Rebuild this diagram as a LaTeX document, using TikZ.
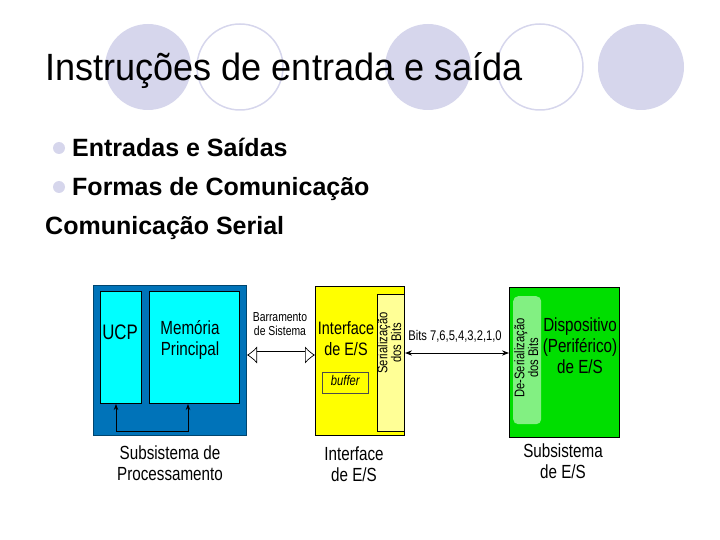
\documentclass[tikz,border=0pt]{standalone}
\usepackage{fontspec}
\setmainfont{Liberation Sans}
\usetikzlibrary{arrows.meta}
\definecolor{lav}{RGB}{214,214,236}
\definecolor{blu}{RGB}{0,115,185}
\definecolor{cya}{RGB}{0,255,255}
\definecolor{yel}{RGB}{255,255,0}
\definecolor{lyel}{RGB}{255,255,150}
\definecolor{grn}{RGB}{0,222,0}
\definecolor{lgrn}{RGB}{130,240,130}
\newcommand\nar[1]{\scalebox{0.8}[1]{\begin{tabular}{@{}c@{}}#1\end{tabular}}}
\tikzset{
 box/.style={draw=black,line width=1pt,inner sep=0pt},
 lbl/.style={font=\fontsize{19}{21}\selectfont,align=center,inner sep=0pt},
 small/.style={font=\fontsize{13}{14}\selectfont,align=center,inner sep=0pt},
 bul/.style={font=\bfseries\fontsize{25}{27}\selectfont,anchor=base west,inner sep=0pt}
}
\begin{document}
\begin{tikzpicture}[x=1pt,y=-1pt]
\useasboundingbox (0,0) rectangle (720,540);
\fill[lav] (148,67) circle (43);
\draw[lav,line width=1.5pt] (240,67) circle (43);
\fill[lav] (428,67) circle (43);
\draw[lav,line width=1.5pt] (540,67) circle (43);
\fill[lav] (641,67) circle (43);
\node[anchor=base west,inner sep=0pt,font=\fontsize{38}{40}\selectfont] (title) at (45,81) {\scalebox{0.95}[1]{Instruções de entrada e saída}};
\fill[lav] (59,148) circle (6);
\node[bul] (b1) at (72,157) {Entradas e Saídas};
\fill[lav] (59,187) circle (6);
\node[bul] (b2) at (72,196) {Formas de Comunicação};
\node[bul] (b3) at (45,235) {Comunicação Serial};
% blue subsystem
\node[box,fill=blu,draw=blu!60!black,minimum width=153pt,minimum height=150pt,anchor=north west] (proc) at (93,285) {};
\node[box,fill=cya,minimum width=41pt,minimum height=112pt,anchor=north west] (ucp) at (100,291) {};
\node[lbl,font=\fontsize{21}{23}\selectfont] at (120,335) {\nar{UCP}};
\node[box,fill=cya,minimum width=90pt,minimum height=112pt,anchor=north west] (mem) at (149,291) {};
\node[lbl] at (190,341) {\nar{Memória\\Principal}};
\coordinate (c1) at (116,431);
\coordinate (c2) at (188,431);
\draw[line width=1pt,-{Stealth[length=6pt]}] (c1) -- (c2) -- (mem.south -| c2);
\draw[line width=1pt,-{Stealth[length=6pt]}] (c1) -- (ucp.south -| c1);
% yellow interface
\node[box,fill=yel,minimum width=89pt,minimum height=149pt,anchor=north west] (intf) at (315,286) {};
\node[box,fill=lyel,minimum width=27pt,minimum height=137pt,anchor=north west] (ser) at (377,294) {};
\node[small,rotate=90,font=\fontsize{14}{12}\selectfont] at (391,343) {\nar{Serialização\\dos Bits}};
\node[lbl,font=\fontsize{18}{21}\selectfont] at (346,341) {\nar{Interface\\de E/S}};
\node[box,draw=black!70,line width=0.6pt,minimum width=46pt,minimum height=21pt,anchor=north west,font=\itshape\fontsize{14}{14}\selectfont] (buf) at (322,372) {\nar{buffer}};
% green subsystem
\node[box,fill=grn,draw=black,minimum width=110pt,minimum height=150pt,anchor=north west] (dev) at (509,287) {};
\node[fill=lgrn,rounded corners=5pt,minimum width=28pt,minimum height=128pt,anchor=north west,inner sep=0pt] (des) at (513,296) {};
\node[small,rotate=90,font=\fontsize{14}{12}\selectfont] at (528,358) {\nar{De-Serialização\\dos Bits}};
\node[lbl] at (580,348) {\nar{Dispositivo\\(Periférico)\\de E/S}};
% connectors
\draw[draw=black,line width=0.7pt,double=white,double distance=7pt,{Latex[length=10pt,width=17pt,open]}-{Latex[length=10pt,width=17pt,open]}] (proc.east |- 0,355) -- (intf.west |- 0,355);
\node[small] at (280,326) {\nar{Barramento\\de Sistema}};
\draw[line width=1pt,{Stealth[length=7pt]}-{Stealth[length=7pt]}] (intf.east |- 0,353) -- (dev.west |- 0,353);
\node[small,font=\fontsize{14}{14}\selectfont] at (455,338) {\nar{Bits 7,6,5,4,3,2,1,0}};
% captions
\node[lbl] (l1) at (170,466) {\nar{Subsistema de\\Processamento}};
\node[lbl] (l2) at (354,467) {\nar{Interface\\de E/S}};
\node[lbl] (l3) at (563,464) {\nar{Subsistema\\de E/S}};
\end{tikzpicture}
\end{document}
